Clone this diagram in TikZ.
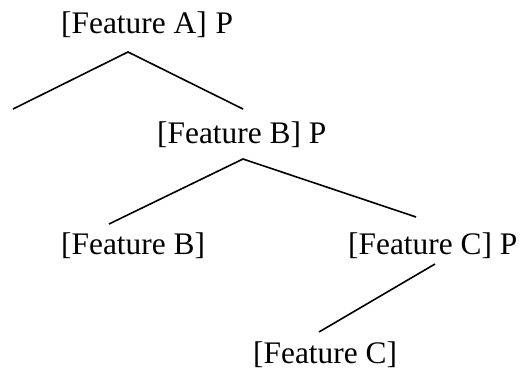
\documentclass[tikz,border=0pt]{standalone}
\usepackage{fontspec}
\setmainfont{Liberation Serif}
\begin{document}
\begin{tikzpicture}[x=1bp,y=1bp,
  lbl/.style={anchor=base west,inner sep=0pt,font=\fontsize{31.5}{38}\selectfont},
  edge/.style={line width=1.6bp}]
\useasboundingbox (0,0) rectangle (525,371);
\node[lbl] (fa) at (61,338) {[Feature A]\hspace{9bp}P};
\node[lbl] (fbp) at (157,228) {[Feature B] P};
\node[lbl] (fb) at (61,117) {[Feature B]};
\node[lbl] (fcp) at (348,117) {[Feature C] P};
\node[lbl] (fc) at (253,8) {[Feature C]};
\coordinate (a1) at (128,319);
\coordinate (a2) at (13,262);
\coordinate (a3) at (243,262);
\coordinate (b1) at (243,212);
\coordinate (b2) at (109,147);
\coordinate (b3) at (416,154);
\coordinate (c1) at (435,107);
\coordinate (c2) at (319,39);
\draw[edge] (a2) -- (a1) -- (a3);
\draw[edge] (b2) -- (b1) -- (b3);
\draw[edge] (c1) -- (c2);
\end{tikzpicture}
\end{document}
